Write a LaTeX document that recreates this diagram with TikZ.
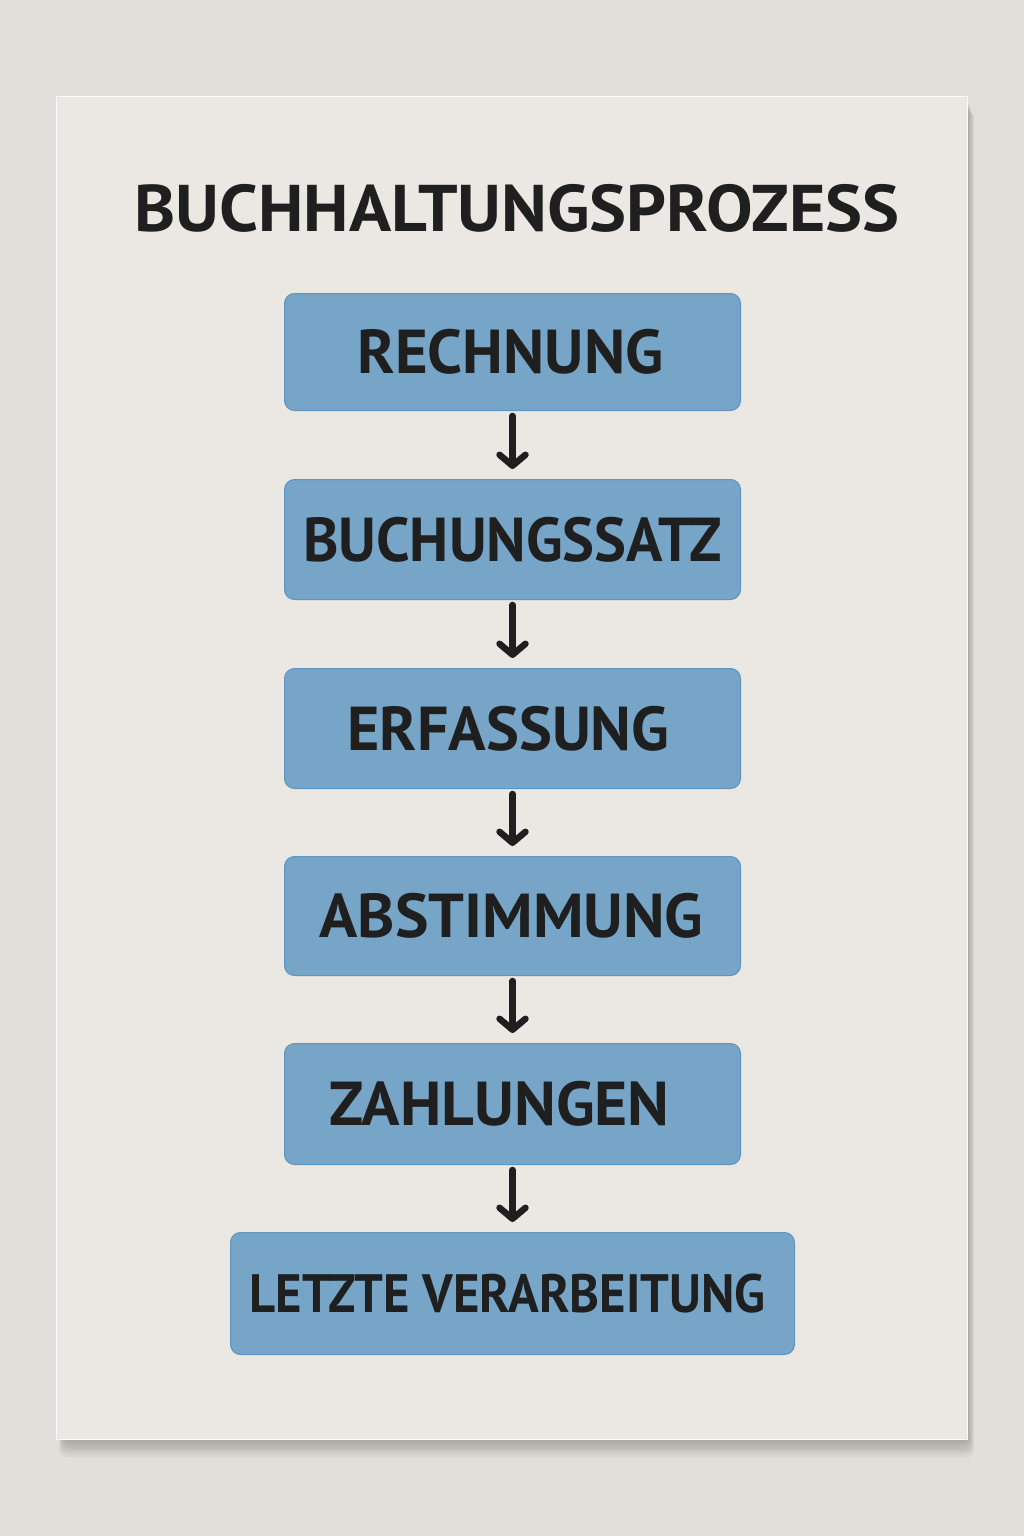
\documentclass[tikz,border=0pt]{standalone}
\usepackage{fontspec}
\setmainfont{PT Sans}
\usetikzlibrary{arrows.meta}
\definecolor{bgcol}{HTML}{E2DFDA}
\definecolor{papercol}{HTML}{EBE8E3}
\definecolor{boxfill}{HTML}{76A5C7}
\definecolor{boxline}{HTML}{5E95C0}
\definecolor{inkcol}{HTML}{1F1F1F}
\tikzset{
  stepbox/.style={draw=boxline, line width=1pt, fill=boxfill, rounded corners=10pt, inner sep=0pt, anchor=north west},
  steptext/.style={text=inkcol, inner sep=0pt, font=\bfseries\fontsize{62}{62}\selectfont},
  flowarrow/.style={draw=inkcol, line width=6.5pt, line cap=round, -{Straight Barb[length=11pt,width=26pt,round]}},
}
\begin{document}
\begin{tikzpicture}[x=1pt,y=-1pt]
\useasboundingbox (0,0) rectangle (1024,1536);
\fill[bgcol] (0,0) rectangle (1024,1536);
% paper shadow
\foreach \i in {1,...,8}{
  \fill[black, opacity=0.03, rounded corners=8pt] (56+8-\i*0.6,96+\i*2) rectangle (968+\i*0.8,1440+\i*2.2);
}
\fill[papercol] (56,96) rectangle (968,1440);
\draw[white!80!papercol, line width=1pt] (56.5,96.5) rectangle (967.5,1439.5);
% title
\node[text=inkcol, inner sep=0pt, font=\bfseries\fontsize{66}{66}\selectfont] (title) at (517,208) {\scalebox{1.057}[1]{BUCHHALTUNGSPROZESS}};
% boxes
\node[stepbox, minimum width=456pt, minimum height=117pt] (b1) at (284,293) {};
\node[steptext] (t1) at ([xshift=-2pt]b1.center) {\scalebox{1.01}[1]{RECHNUNG}};
\node[stepbox, minimum width=456pt, minimum height=120pt] (b2) at (284,479) {};
\node[steptext] (t2) at (b2.center) {\scalebox{0.97}[1]{BUCHUNGSSATZ}};
\node[stepbox, minimum width=456pt, minimum height=120pt] (b3) at (284,668) {};
\node[steptext] (t3) at ([xshift=-4pt]b3.center) {ERFASSUNG};
\node[stepbox, minimum width=456pt, minimum height=119pt] (b4) at (284,856) {};
\node[steptext] (t4) at ([xshift=-1pt]b4.center) {\scalebox{1.02}[1]{ABSTIMMUNG}};
\node[stepbox, minimum width=456pt, minimum height=121pt] (b5) at (284,1043) {};
\node[steptext] (t5) at ([xshift=-13pt]b5.center) {\scalebox{1.025}[1]{ZAHLUNGEN}};
\node[stepbox, minimum width=564pt, minimum height=122pt] (b6) at (230,1232) {};
\node[steptext, font=\bfseries\fontsize{54}{54}\selectfont] (t6) at ([xshift=-5pt]b6.center) {\scalebox{0.94}[1]{LETZTE VERARBEITUNG}};
% arrows
\foreach \a/\b in {b1/b2,b2/b3,b3/b4,b4/b5,b5/b6}{
  \draw[flowarrow] ([yshift=-5pt]\a.south) -- ([yshift=10pt]\b.north);
}
\end{tikzpicture}
\end{document}
